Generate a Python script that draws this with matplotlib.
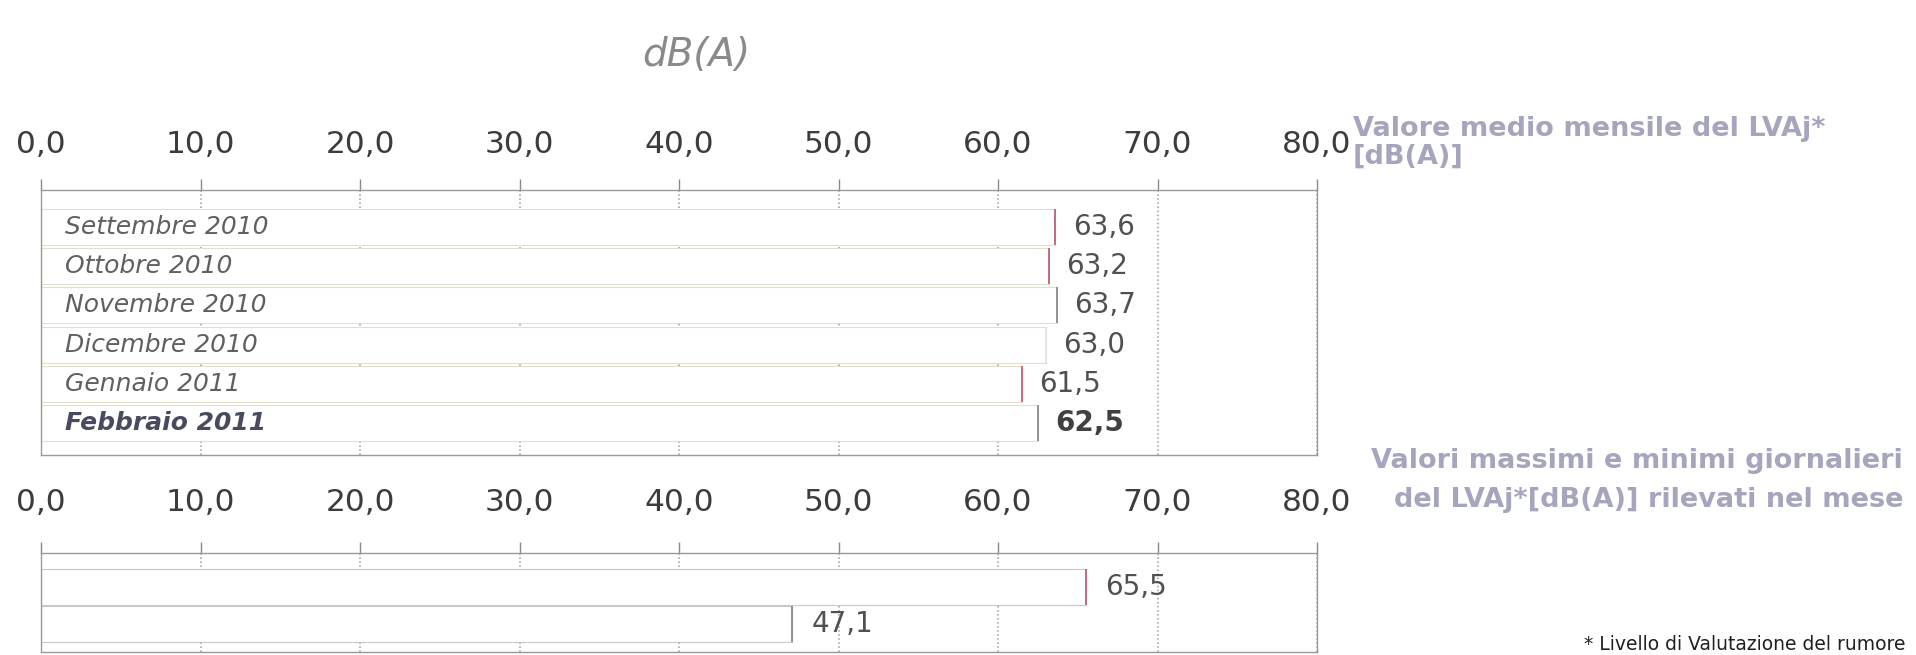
import matplotlib.pyplot as plt
import numpy as np

# dati
mesi = ['Settembre 2010', 'Ottobre 2010', 'Novembre 2010',
        'Dicembre 2010', 'Gennaio 2011', 'Febbraio 2011']
medie = [63.6, 63.2, 63.7, 63.0, 61.5, 62.5]
estremi_nomi = ['Massimo', 'Minimo']
estremi = [65.5, 47.1]
scala = [0, 10, 20, 30, 40, 50, 60, 70, 80]

W, H = 1916, 655
fig = plt.figure(figsize=(W / 100, H / 100), dpi=100)


def box(left, top, right, bottom):
    # pixel dell'immagine -> frazioni della figura
    return [left / W, 1 - bottom / H, (right - left) / W, (bottom - top) / H]


def fmt(v):
    return f'{v:.1f}'.replace('.', ',')


def prepara(ax, pad):
    ax.set_xlim(0, 80)
    ax.set_xticks(scala)
    ax.set_xticklabels([fmt(v) for v in scala])
    ax.xaxis.tick_top()
    ax.tick_params(axis='x', direction='out', length=8, width=1, color='#8a8a8a',
                   labelsize=22.5, labelcolor='#3c3c3c', pad=pad)
    ax.set_yticks([])
    ax.set_axisbelow(True)
    ax.grid(axis='x', linestyle=':', linewidth=1.1, color='#9a9a9a')
    for s in ax.spines.values():
        s.set_color('#9a9a9a')
        s.set_linewidth(1)


# valore medio mensile
ax1 = fig.add_axes(box(41, 190, 1317, 455))
prepara(ax1, 14)
y1 = np.arange(len(mesi))[::-1]
h1 = 0.92
ax1.set_ylim(-0.816, 5.944)
ax1.barh(y1, medie, height=h1, color='white', edgecolor='#e2dec8', linewidth=0.8, zorder=2)
bordi1 = ['#c0607a', '#c0607a', '#8a8a8a', '#e4e4e4', '#c0607a', '#8a8a8a']
ax1.vlines(medie, y1 - h1 / 2, y1 + h1 / 2, colors=bordi1, linewidth=1.3, zorder=3)
for i in range(len(mesi)):
    ultimo = (i == len(mesi) - 1)
    ax1.text(1.5, y1[i], mesi[i], ha='left', va='center', fontsize=18, style='italic',
             fontweight='bold' if ultimo else 'normal',
             color='#4a4a5e' if ultimo else '#606060', zorder=4)
    ax1.text(medie[i] + 1.1, y1[i], fmt(medie[i]), ha='left', va='center', fontsize=20,
             fontweight='bold' if ultimo else 'normal',
             color='#404040' if ultimo else '#505050', zorder=4)

# massimi e minimi giornalieri
ax2 = fig.add_axes(box(41, 553, 1317, 652))
prepara(ax2, 18)
y2 = np.arange(len(estremi))[::-1]
h2 = 0.97
ax2.set_ylim(-0.757, 1.919)
ax2.barh(y2, estremi, height=h2, color='white', edgecolor='#c8c8c8', linewidth=0.8, zorder=2)
ax2.vlines(estremi, y2 - h2 / 2, y2 + h2 / 2, colors=['#c0607a', '#8a8a8a'], linewidth=1.3, zorder=3)
for i in range(len(estremi)):
    ax2.text(estremi[i] + 1.2, y2[i], fmt(estremi[i]), ha='left', va='center',
             fontsize=20, color='#505050', zorder=4)

# testi
fig.text(696 / W, 1 - 55 / H, 'dB(A)', ha='center', va='center', fontsize=28,
         style='italic', color='#8a8a8a')
fig.text(1353 / W, 1 - 129 / H, 'Valore medio mensile del LVAj*', ha='left', va='center',
         fontsize=19.5, fontweight='bold', color='#a5a5bd')
fig.text(1353 / W, 1 - 157 / H, '[dB(A)]', ha='left', va='center',
         fontsize=19.5, fontweight='bold', color='#a5a5bd')
fig.text(1903 / W, 1 - 461 / H, 'Valori massimi e minimi giornalieri', ha='right', va='center',
         fontsize=19.5, fontweight='bold', color='#a5a5bd')
fig.text(1903 / W, 1 - 500 / H, 'del LVAj*[dB(A)] rilevati nel mese', ha='right', va='center',
         fontsize=19.5, fontweight='bold', color='#a5a5bd')
fig.text(1584 / W, 1 - 644 / H, '* Livello di Valutazione del rumore', ha='left', va='center',
         fontsize=13.5, color='#202020')

plt.savefig('out.png', dpi=100)
